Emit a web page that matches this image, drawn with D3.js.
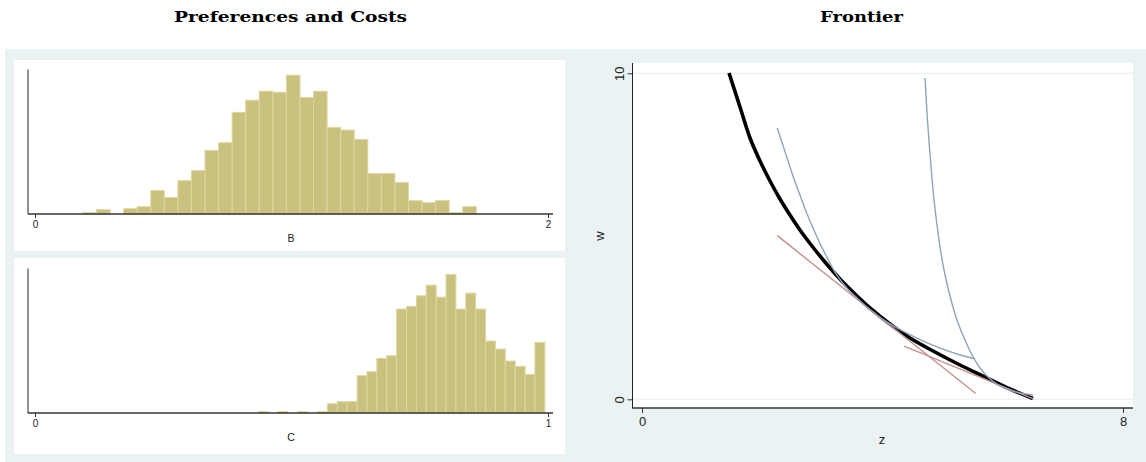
<!DOCTYPE html>
<html><head><meta charset="utf-8">
<script src="https://cdn.jsdelivr.net/npm/d3@7"></script>
<style>body{margin:0;background:#fff}svg{display:block}</style>
</head><body>
<script>
// ---- Data ----
const bBinStart = 0.1871, bBinWidth = 0.05287;
const bCounts = [1,3.2,0,4,5.5,17.6,12.3,25,32.6,47.7,53.5,76.3,85.4,92.2,91.4,104.2,87.4,92.2,65,63,56,30.4,30.4,23.6,10,8.5,10,1,5.5];
const bTicks = [0,2];
const cBinStart = 0.4353, cBinWidth = 0.01926;
const cCounts = [1,0,1,0,1,0,1,7,8.5,8.5,28,31,41,43,78,80,88,96,87,104,78,90,78,54,48,39,35,29,53];
const cTicks = [0,1];
const frontierZ = [1.447,1.630,1.796,1.963,2.129,2.295,2.461,2.627,2.827,3.043,3.292,3.542,3.791,4.124,4.457,4.872,5.288,5.704,6.119,6.502];
const frontierW = [10.01,8.966,8.015,7.310,6.696,6.144,5.653,5.193,4.702,4.212,3.690,3.230,2.804,2.310,1.880,1.451,1.052,0.684,0.316,0.025];
const indiff1Z = [2.25,2.38,2.51,2.63,2.76,2.91,3.08,3.24,3.41,3.59,3.79,4.18,4.57,4.96,5.29,5.54];
const indiff1W = [8.32,7.59,6.86,6.25,5.62,4.98,4.34,3.81,3.41,3.08,2.74,2.25,1.88,1.57,1.36,1.24];
const indiff2Z = [4.707,4.748,4.798,4.857,4.940,5.023,5.140,5.239,5.372,5.489,5.622,5.772,5.954,6.154,6.503];
const indiff2W = [9.856,8.567,7.340,6.113,4.886,3.966,3.045,2.432,1.818,1.359,0.960,0.653,0.408,0.255,0.132];
const tangent1Z = [2.25,5.55], tangent1W = [5.02,0.18];
const tangent2Z = [4.36,6.51], tangent2W = [1.63,0.01];
const zTicks = [0,8], wTicks = [0,10];

// ---- Drawing ----
const W = 1146, H = 462;
const svg = d3.select("body").append("svg").attr("width", W).attr("height", H);
const light = "#eaf2f3";
svg.append("rect").attr("width", W).attr("height", H).attr("fill", "#fff");
svg.append("rect").attr("x", 5).attr("y", 49).attr("width", W - 5).attr("height", H - 49).attr("fill", light);

const serif = "'DejaVu Serif', 'Liberation Serif', serif";
const sans = "'Liberation Sans', Arial, sans-serif";
svg.append("text").attr("x", 290.5).attr("y", 22).attr("text-anchor", "middle")
  .attr("font-family", serif).attr("font-weight", "bold").attr("font-size", 14.5)
  .attr("textLength", 233).attr("lengthAdjust", "spacingAndGlyphs").text("Preferences and Costs");
svg.append("text").attr("x", 861.5).attr("y", 22).attr("text-anchor", "middle")
  .attr("font-family", serif).attr("font-weight", "bold").attr("font-size", 14.5)
  .attr("textLength", 83).attr("lengthAdjust", "spacingAndGlyphs").text("Frontier");

function histogram(cfg) {
  const g = svg.append("g");
  g.append("rect").attr("x", 14).attr("y", cfg.top).attr("width", 551).attr("height", cfg.bottom - cfg.top).attr("fill", "#fff");
  const x = d3.scaleLinear().domain(cfg.domain).range([35, 548]);
  const y = d3.scaleLinear().domain([0, 108.5]).range([cfg.axisY, cfg.axisY - 144.5]);
  const bins = cfg.counts.map((c, i) => ({x0: cfg.start + i * cfg.width, x1: cfg.start + (i + 1) * cfg.width, c}));
  g.selectAll("rect.bar").data(bins.filter(d => d.c > 0)).join("rect").attr("class", "bar")
    .attr("x", d => x(d.x0)).attr("width", d => x(d.x1) - x(d.x0))
    .attr("y", d => y(d.c)).attr("height", d => y(0) - y(d.c))
    .attr("fill", "#cac17f").attr("stroke", "#ddd69e").attr("stroke-width", 1);
  g.append("line").attr("x1", 28).attr("x2", 28).attr("y1", cfg.axisY - 144.5).attr("y2", cfg.axisY)
    .attr("stroke", "#222").attr("stroke-width", 1);
  g.append("line").attr("x1", 28).attr("x2", 553).attr("y1", cfg.axisY).attr("y2", cfg.axisY)
    .attr("stroke", "#333").attr("stroke-width", 1.3);
  const ax = g.append("g").attr("transform", `translate(0,${cfg.axisY})`)
    .call(d3.axisBottom(x).tickValues(cfg.ticks).tickFormat(d3.format("d")).tickSize(4).tickPadding(3));
  ax.select(".domain").remove();
  ax.selectAll("line").attr("stroke", "#333");
  ax.selectAll("text").attr("font-family", sans).attr("font-size", 10).attr("fill", "#222");
  g.append("text").attr("x", 291).attr("y", cfg.axisY + 28).attr("text-anchor", "middle")
    .attr("font-family", sans).attr("font-size", 10.5).attr("fill", "#222").text(cfg.label);
}
histogram({top: 60, bottom: 251, axisY: 214, domain: [0, 2], ticks: bTicks, start: bBinStart, width: bBinWidth, counts: bCounts, label: "B"});
histogram({top: 258, bottom: 454, axisY: 413, domain: [0, 1], ticks: cTicks, start: cBinStart, width: cBinWidth, counts: cCounts, label: "C"});

// Frontier panel
const fx = d3.scaleLinear().domain([0, 8]).range([642, 1123]);
const fy = d3.scaleLinear().domain([0, 10]).range([399.3, 73.3]);
const fg = svg.append("g");
fg.append("rect").attr("x", 632).attr("y", 63).attr("width", 501).attr("height", 345).attr("fill", "#fff");
wTicks.forEach(t => fg.append("line").attr("x1", 633).attr("x2", 1133).attr("y1", fy(t)).attr("y2", fy(t))
  .attr("stroke", light).attr("stroke-width", 1.2));
fg.append("line").attr("x1", 632.5).attr("x2", 632.5).attr("y1", 63).attr("y2", 408).attr("stroke", "#222");
fg.append("line").attr("x1", 632).attr("x2", 1133).attr("y1", 408).attr("y2", 408).attr("stroke", "#333").attr("stroke-width", 1.3);
const xa = fg.append("g").attr("transform", "translate(0,408)")
  .call(d3.axisBottom(fx).tickValues(zTicks).tickFormat(d3.format("d")).tickSize(5).tickPadding(4));
xa.select(".domain").remove();
xa.selectAll("line").attr("stroke", "#333");
xa.selectAll("text").attr("font-family", sans).attr("font-size", 13).attr("fill", "#222");
const ya = fg.append("g").attr("transform", "translate(632.5,0)")
  .call(d3.axisLeft(fy).tickValues(wTicks).tickFormat(d3.format("d")).tickSize(5).tickPadding(4));
ya.select(".domain").remove();
ya.selectAll("line").attr("stroke", "#333");
ya.selectAll(".tick text").attr("font-family", sans).attr("font-size", 13).attr("fill", "#222")
  .attr("text-anchor", "middle").attr("x", 0).attr("y", 0).attr("dy", "0.35em")
  .attr("transform", "translate(-13,0) rotate(-90)");
fg.append("text").attr("x", 882).attr("y", 444).attr("text-anchor", "middle")
  .attr("font-family", sans).attr("font-size", 13).attr("fill", "#222").text("z");
fg.append("text").attr("transform", "translate(604,236) rotate(-90)").attr("text-anchor", "middle")
  .attr("font-family", sans).attr("font-size", 13).attr("fill", "#222").text("w");

const line = d3.line().x(d => fx(d[0])).y(d => fy(d[1])).curve(d3.curveCatmullRom.alpha(0.5));
const straight = d3.line().x(d => fx(d[0])).y(d => fy(d[1]));
const zip = (a, b) => a.map((v, i) => [v, b[i]]);
fg.append("path").attr("d", line(zip(frontierZ, frontierW))).attr("fill", "none").attr("stroke", "#000").attr("stroke-width", 3.6);
fg.append("path").attr("d", straight(zip(tangent1Z, tangent1W))).attr("fill", "none").attr("stroke", "#c4918c").attr("stroke-width", 1.4);
fg.append("path").attr("d", straight(zip(tangent2Z, tangent2W))).attr("fill", "none").attr("stroke", "#c4918c").attr("stroke-width", 1.4);
fg.append("path").attr("d", line(zip(indiff1Z, indiff1W))).attr("fill", "none").attr("stroke", "#8ea3bb").attr("stroke-width", 1.4);
fg.append("path").attr("d", line(zip(indiff2Z, indiff2W))).attr("fill", "none").attr("stroke", "#8ea3bb").attr("stroke-width", 1.4);
</script>
</body></html>
